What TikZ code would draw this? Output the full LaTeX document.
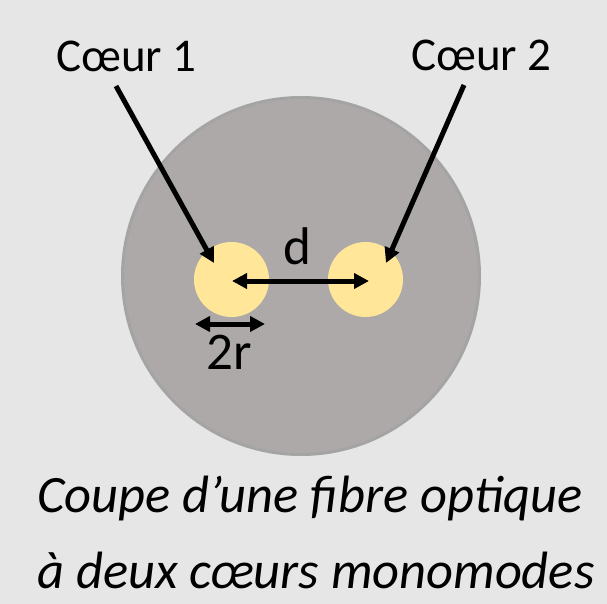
\documentclass[tikz,border=0pt]{standalone}
\usepackage{fontspec}
\setmainfont{Carlito}
\usetikzlibrary{arrows.meta}
\definecolor{bgc}{HTML}{E6E6E6}
\definecolor{fibre}{HTML}{ADA9A9}
\definecolor{fibreedge}{HTML}{A4A4A4}
\definecolor{core}{HTML}{FFE699}
\tikzset{
  corenode/.style={circle, fill=core, draw=none, minimum size=75pt, inner sep=0},
  lbl/.style={font=\fontsize{47}{56}\selectfont, inner sep=0, anchor=base west},
  biglbl/.style={font=\fontsize{53}{60}\selectfont, inner sep=0, anchor=base west},
  captext/.style={font=\fontsize{52.5}{60}\selectfont\itshape, inner sep=0, anchor=base west},
  arr/.style={line width=5pt, -{Triangle[length=15pt,width=15pt]}},
  darr/.style={line width=5pt, {Triangle[length=15pt,width=15pt]}-{Triangle[length=15pt,width=15pt]}}
}
\begin{document}
\begin{tikzpicture}[x=1pt,y=-1pt]
\fill[bgc] (0,0) rectangle (607,604);
\useasboundingbox (0,0) rectangle (607,604);
\node[circle, fill=fibre, draw=fibreedge, line width=3pt, minimum size=357pt, inner sep=0] (fib) at (301,276) {};
\node[corenode] (c1) at (231.5,279.5) {};
\node[corenode] (c2) at (365.5,279.5) {};
\node[lbl] (l1) at (56,72) {Cœur 1};
\node[lbl] (l2) at (411,71) {Cœur 2};
\coordinate (s1) at (116,86);
\coordinate (t1) at (214,263);
\coordinate (s2) at (464,85);
\coordinate (t2) at (386,263);
\draw[arr] (s1) -- (t1);
\draw[arr] (s2) -- (t2);
\coordinate (d1) at (232,281);
\coordinate (d2) at (369,281);
\draw[darr] (d1) -- (d2);
\node[biglbl] (dl) at (283,264) {d};
\coordinate (r1) at (195,324);
\coordinate (r2) at (265,324);
\draw[darr] (r1) -- (r2);
\node[biglbl] (rl) at (206,369) {2r};
\node[captext] (t1l) at (37,512) {Coupe d’une fibre optique};
\node[captext] (t2l) at (37,588) {à deux cœurs monomodes};
\end{tikzpicture}
\end{document}
